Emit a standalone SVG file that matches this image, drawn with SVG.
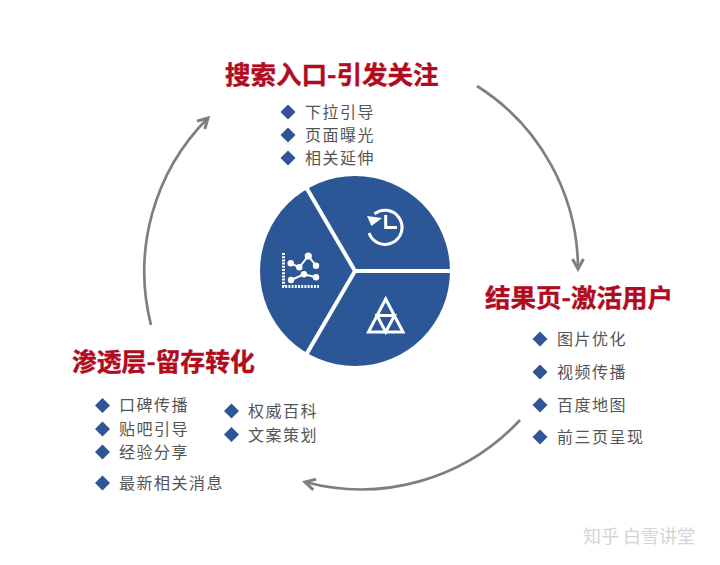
<svg xmlns="http://www.w3.org/2000/svg" width="720" height="565" viewBox="0 0 720 565">
<style>
.t{font-family:"Noto Sans CJK SC","Liberation Sans",sans-serif;font-weight:700;font-size:25.500px;fill:#b00c1e;stroke:#b00c1e;stroke-width:.4}
.b{font-family:"Noto Sans CJK SC","Liberation Sans",sans-serif;font-size:16px;letter-spacing:1.500px;fill:#555}
.a{fill:none;stroke:#7f7f7f;stroke-width:2.700;marker-end:url(#ah)}
.s{fill:none;stroke:#fff;stroke-width:4}
.i{fill:none;stroke:#fff;stroke-width:3}
.w{font-family:"Noto Sans CJK SC","Liberation Sans",sans-serif;font-size:18px;fill:#d4d4d4}
</style>
<defs>
<marker id="ah" markerUnits="userSpaceOnUse" markerWidth="14" markerHeight="14" refX="11" refY="7" orient="auto"><path d="M1 1.500L11 7L1 12.500" fill="none" stroke="#7f7f7f" stroke-width="3"/></marker>
<path id="d" d="M0-7.500L7.500 0L0 7.500L-7.500 0Z" fill="#2f5597"/>
</defs>
<rect width="720" height="565" fill="#fff"/>
<g id="connectors">
<path class="a" d="M477 86A217 217 0 0 1 578 269"/>
<path class="a" d="M520 420A217 217 0 0 1 305 482"/>
<path class="a" d="M151 325A217 217 0 0 1 208 118"/>
</g>
<g id="hub">
<circle cx="355" cy="271" r="95" fill="#2b5797"/>
<path class="s" d="M355 271L452 271M355 271L306 187M355 271L306 355"/>
<g class="i">
<path d="M374.500 214A17 17 0 1 1 369 233"/>
<path d="M385.700 215V227.500H397"/>
<path d="M367 216L382 218L371.500 226Z" fill="#fff" stroke="none"/>
</g>
<g class="i" stroke-width="2.800">
<path d="M385.700 299L368.500 332H403Z"/>
<path d="M377 315.500H394.500L385.700 332Z"/>
</g>
<g class="i">
<path d="M283.500 253V286.500H319" stroke-width="3" stroke-dasharray="2 1.200"/>
<path d="M290.700 263.300L299.300 267.300L308.300 256L316 265.700M291 280L304 274.300L316 277.300" stroke-width="2"/>
<g fill="#fff" stroke="none">
<circle cx="290.700" cy="263.300" r="3.200"/><circle cx="299.300" cy="267.300" r="3.200"/><circle cx="308.300" cy="256" r="3.600"/><circle cx="316" cy="265.700" r="3.200"/><circle cx="291" cy="280" r="3.200"/><circle cx="304" cy="274.300" r="3.200"/><circle cx="316" cy="277.300" r="3.200"/>
</g>
</g>
</g>
<g id="search">
<text class="t" x="225" y="84">搜索入口-引发关注</text>
<use href="#d" x="288" y="112"/><text class="b" x="305" y="118">下拉引导</text>
<use href="#d" x="288" y="135"/><text class="b" x="305" y="141">页面曝光</text>
<use href="#d" x="288" y="158"/><text class="b" x="305" y="164">相关延伸</text>
</g>
<g id="results">
<text class="t" x="485" y="307">结果页-激活用户</text>
<use href="#d" x="540" y="339"/><text class="b" x="557" y="345">图片优化</text>
<use href="#d" x="540" y="372"/><text class="b" x="557" y="378">视频传播</text>
<use href="#d" x="540" y="405"/><text class="b" x="557" y="411">百度地图</text>
<use href="#d" x="540" y="437"/><text class="b" x="557" y="443">前三页呈现</text>
</g>
<g id="retention">
<text class="t" x="72" y="371" style="font-size:24.800px">渗透层-留存转化</text>
<use href="#d" x="102.500" y="405.500"/><text class="b" x="119" y="411">口碑传播</text>
<use href="#d" x="102.500" y="429"/><text class="b" x="119" y="435">贴吧引导</text>
<use href="#d" x="102.500" y="452"/><text class="b" x="119" y="458">经验分享</text>
<use href="#d" x="102.500" y="483"/><text class="b" x="119" y="489">最新相关消息</text>
<use href="#d" x="231.500" y="411"/><text class="b" x="248" y="417">权威百科</text>
<use href="#d" x="231.500" y="434.500"/><text class="b" x="248" y="441">文案策划</text>
</g>
<text class="w" x="583" y="543">知乎 白雪讲堂</text>
</svg>
